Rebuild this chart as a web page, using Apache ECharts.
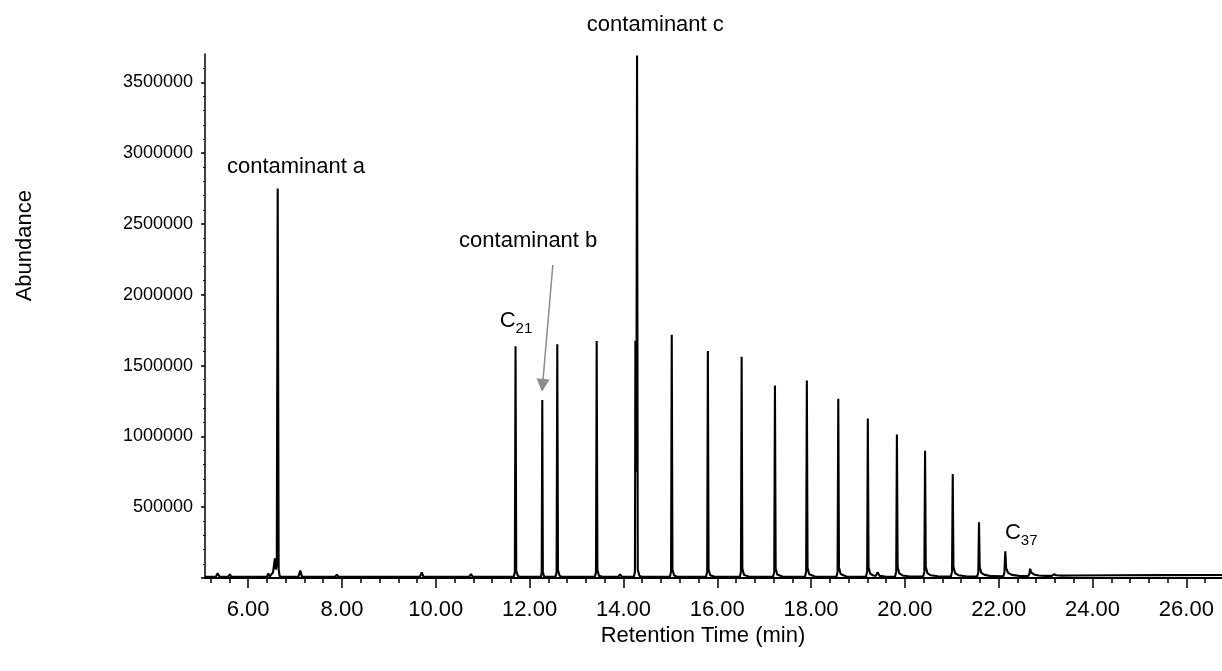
<!DOCTYPE html>
<html>
<head>
<meta charset="utf-8">
<title>Chromatogram</title>
<script src="https://cdn.jsdelivr.net/npm/echarts@6/dist/echarts.min.js"></script>
<style>
  html, body { margin: 0; padding: 0; background: #fff; }
  #chart { width: 1222px; height: 671px; }
</style>
</head>
<body>
<div id="chart"></div>
<script>
// Total ion chromatogram: [retention time (min), abundance]
const trace = [
  [5.08, 8000], [5.31, 8000], [5.35, 33000], [5.39, 8000],
  [5.57, 8000], [5.61, 26000], [5.64, 8000],
  [5.93, 8000], [5.96, 14000], [5.99, 8000],
  [6.05, 8000], [6.08, 20000], [6.11, 8000],
  [6.40, 8000], [6.43, 33000], [6.46, 10000], [6.50, 12000], [6.53, 40000], [6.55, 30000],
  [6.57, 139000], [6.59, 60000], [6.61, 90000], [6.63, 2750000], [6.65, 60000], [6.67, 14000], [6.72, 8000],
  [7.07, 8000], [7.11, 52000], [7.15, 8000],
  [7.85, 8000], [7.89, 23000], [7.93, 8000],
  [8.72, 8000], [8.76, 14000], [8.80, 8000],
  [9.66, 8000], [9.70, 40000], [9.74, 8000],
  [10.71, 8000], [10.75, 28000], [10.79, 8000],
  [11.31, 8000], [11.35, 19000], [11.39, 8000],
  [11.66, 8000], [11.685, 40000], [11.70, 1637000], [11.715, 50000], [11.75, 14000], [11.80, 8000],
  [11.88, 8000], [11.90, 14000], [11.92, 8000],
  [12.24, 8000], [12.258, 40000], [12.27, 1256000], [12.282, 40000], [12.31, 10000],
  [12.55, 8000], [12.575, 40000], [12.59, 1651000], [12.605, 55000], [12.64, 15000], [12.70, 8000],
  [13.39, 8000], [13.415, 40000], [13.43, 1673000], [13.445, 55000], [13.48, 15000], [13.55, 8000],
  [13.89, 8000], [13.93, 26000], [13.97, 8000],
  [14.22, 8000], [14.245, 40000], [14.255, 1675000], [14.275, 750000], [14.29, 3690000],
  [14.305, 60000], [14.34, 16000], [14.40, 8000],
  [14.99, 8000], [15.015, 45000], [15.03, 1717000], [15.045, 60000], [15.08, 18000], [15.15, 9000],
  [15.35, 8000], [15.39, 20000], [15.43, 8000],
  [15.76, 8000], [15.785, 45000], [15.80, 1602000], [15.815, 60000], [15.85, 20000], [15.95, 9000],
  [16.48, 8000], [16.505, 45000], [16.52, 1562000], [16.535, 65000], [16.57, 22000], [16.68, 9000],
  [17.19, 8000], [17.215, 45000], [17.23, 1360000], [17.245, 65000], [17.28, 24000], [17.40, 9000],
  [17.87, 8000], [17.895, 45000], [17.91, 1395000], [17.925, 70000], [17.96, 26000], [18.08, 10000],
  [18.54, 9000], [18.565, 45000], [18.58, 1265000], [18.595, 75000], [18.63, 28000], [18.75, 11000],
  [19.17, 9000], [19.195, 45000], [19.21, 1127000], [19.225, 75000], [19.26, 30000], [19.33, 18000],
  [19.38, 15000], [19.42, 40000], [19.46, 15000], [19.58, 10000],
  [19.79, 9000], [19.815, 45000], [19.83, 1014000], [19.845, 80000], [19.88, 32000], [19.95, 18000], [20.10, 11000],
  [20.39, 10000], [20.415, 45000], [20.43, 898000], [20.445, 80000], [20.48, 34000], [20.55, 19000], [20.70, 12000],
  [20.98, 10000], [21.005, 45000], [21.02, 734000], [21.035, 80000], [21.07, 35000], [21.14, 20000], [21.30, 12000],
  [21.54, 11000], [21.565, 40000], [21.58, 393000], [21.595, 75000], [21.63, 36000], [21.70, 22000], [21.85, 13000],
  [22.10, 12000], [22.122, 40000], [22.14, 188000], [22.158, 70000], [22.20, 36000], [22.28, 22000], [22.45, 14000],
  [22.63, 14000], [22.655, 30000], [22.67, 66000], [22.69, 40000], [22.75, 25000], [22.85, 18000], [23.00, 15000],
  [23.13, 15000], [23.18, 26000], [23.23, 19000], [23.35, 17000], [23.60, 18000],
  [24.50, 19000], [25.50, 20000], [26.76, 21000]
];

// Peak annotations (label centre in data units)
const annotationText = ['contaminant a', 'contaminant b', 'contaminant c', 'C21', 'C37'];
const annotationTime = [7.02, 11.97, 14.68, 11.71, 22.48];
const annotationAbundance = [2900000, 2380000, 3905000, 1815000, 318000];

// Arrow from the "contaminant b" label down to its peak
const arrowFrom = [12.495, 2210000];
const arrowTo = [12.276, 1360000];

// Axis ticks
const timeLabels = [6, 8, 10, 12, 14, 16, 18, 20, 22, 24, 26];
const timeMinorTicks = [5.2, 5.6, 6.4, 6.8, 7.2, 7.6, 8.4, 8.8, 9.2, 9.6, 10.4, 10.8, 11.2, 11.6,
  12.4, 12.8, 13.2, 13.6, 14.4, 14.8, 15.2, 15.6, 16.4, 16.8, 17.2, 17.6, 18.4, 18.8, 19.2, 19.6,
  20.4, 20.8, 21.2, 21.6, 22.4, 22.8, 23.2, 23.6, 24.4, 24.8, 25.2, 25.6, 26.4];
const abundanceLabels = [500000, 1000000, 1500000, 2000000, 2500000, 3000000, 3500000];
const abundanceMajorTicks = [0, 500000, 1000000, 1500000, 2000000, 2500000, 3000000, 3500000];
const abundanceMinorTicks = [100000, 200000, 300000, 400000, 600000, 700000, 800000, 900000,
  1100000, 1200000, 1300000, 1400000, 1600000, 1700000, 1800000, 1900000,
  2100000, 2200000, 2300000, 2400000, 2600000, 2700000, 2800000, 2900000,
  3100000, 3200000, 3300000, 3400000, 3600000];

const FONT = 'Liberation Sans, Arial, sans-serif';
const X_MIN = 5.08, X_MAX = 26.76, Y_MIN = 0, Y_MAX = 3700000;
const gridBox = { left: 205, right: 0, top: 54, bottom: 93 };

const chart = echarts.init(document.getElementById('chart'), null, { renderer: 'canvas' });

const axisTitles = [
  {
    type: 'text', left: 14, top: 190,
    rotation: Math.PI / 2,
    style: { text: 'Abundance', fill: '#000', font: '22px ' + FONT }
  },
  {
    type: 'text', x: 703, y: 636,
    style: { text: 'Retention Time (min)', fill: '#000', font: '22px ' + FONT,
      align: 'center', verticalAlign: 'middle' }
  }
];

chart.setOption({
  animation: false,
  backgroundColor: '#ffffff',
  grid: [
    Object.assign({}, gridBox),
    Object.assign({}, gridBox)
  ],
  xAxis: [
    {
      type: 'value', gridIndex: 0, min: X_MIN, max: X_MAX, position: 'bottom',
      axisLine: { show: true, lineStyle: { color: '#000', width: 2 } },
      axisTick: { show: true, inside: false, length: 10, customValues: timeLabels,
        lineStyle: { color: '#000', width: 1.5 } },
      axisLabel: { show: true, customValues: timeLabels, margin: 21,
        formatter: v => Number(v).toFixed(2),
        color: '#000', fontFamily: FONT, fontSize: 22 },
      splitLine: { show: false }
    },
    {
      type: 'value', gridIndex: 1, min: X_MIN, max: X_MAX, position: 'bottom',
      axisLine: { show: false },
      axisTick: { show: true, inside: false, length: 5, customValues: timeMinorTicks,
        lineStyle: { color: '#000', width: 1.5 } },
      axisLabel: { show: false },
      splitLine: { show: false }
    }
  ],
  yAxis: [
    {
      type: 'value', gridIndex: 0, min: Y_MIN, max: Y_MAX, position: 'left',
      axisLine: { show: true, lineStyle: { color: '#000', width: 1.5 } },
      axisTick: { show: true, inside: false, length: 4, customValues: abundanceMajorTicks,
        lineStyle: { color: '#000', width: 1.5 } },
      axisLabel: { show: true, customValues: abundanceLabels, margin: 12,
        formatter: v => String(v),
        color: '#000', fontFamily: FONT, fontSize: 18 },
      splitLine: { show: false }
    },
    {
      type: 'value', gridIndex: 1, min: Y_MIN, max: Y_MAX, position: 'left',
      axisLine: { show: false },
      axisTick: { show: true, inside: false, length: 2, customValues: abundanceMinorTicks,
        lineStyle: { color: '#000', width: 1.2 } },
      axisLabel: { show: false },
      splitLine: { show: false }
    }
  ],
  graphic: axisTitles,
  series: [
    {
      name: 'TIC',
      type: 'line',
      xAxisIndex: 0, yAxisIndex: 0,
      data: trace,
      symbol: 'none',
      showSymbol: false,
      sampling: null,
      smooth: false,
      clip: true,
      lineStyle: { color: '#000', width: 2.1, join: 'bevel' },
      markLine: {
        silent: true,
        symbol: ['none', 'triangle'],
        symbolSize: [13, 13],
        label: { show: false },
        lineStyle: { color: '#8c8c8c', width: 1.5, type: 'solid' },
        emphasis: { disabled: true },
        data: [[{ coord: arrowFrom }, { coord: arrowTo }]]
      },
      z: 3
    }
  ]
});

// Peak labels: placed through the axis scales, drawn as plain black text
const peakLabels = annotationText.map((name, i) => {
  const p = chart.convertToPixel({ gridIndex: 0 }, [annotationTime[i], annotationAbundance[i]]);
  const m = /^C(\d+)$/.exec(name);
  return {
    type: 'text',
    x: p[0], y: p[1],
    z: 10,
    silent: true,
    style: {
      text: m ? '{c|C}{s|' + m[1] + '}' : name,
      fill: '#000',
      font: '22px ' + FONT,
      align: 'center',
      verticalAlign: 'middle',
      rich: {
        c: { fill: '#000', font: '22px ' + FONT, verticalAlign: 'bottom' },
        s: { fill: '#000', font: '15px ' + FONT, verticalAlign: 'bottom', padding: [0, 0, -4, 0] }
      }
    }
  };
});

chart.setOption({ graphic: axisTitles.concat(peakLabels) });
</script>
</body>
</html>
